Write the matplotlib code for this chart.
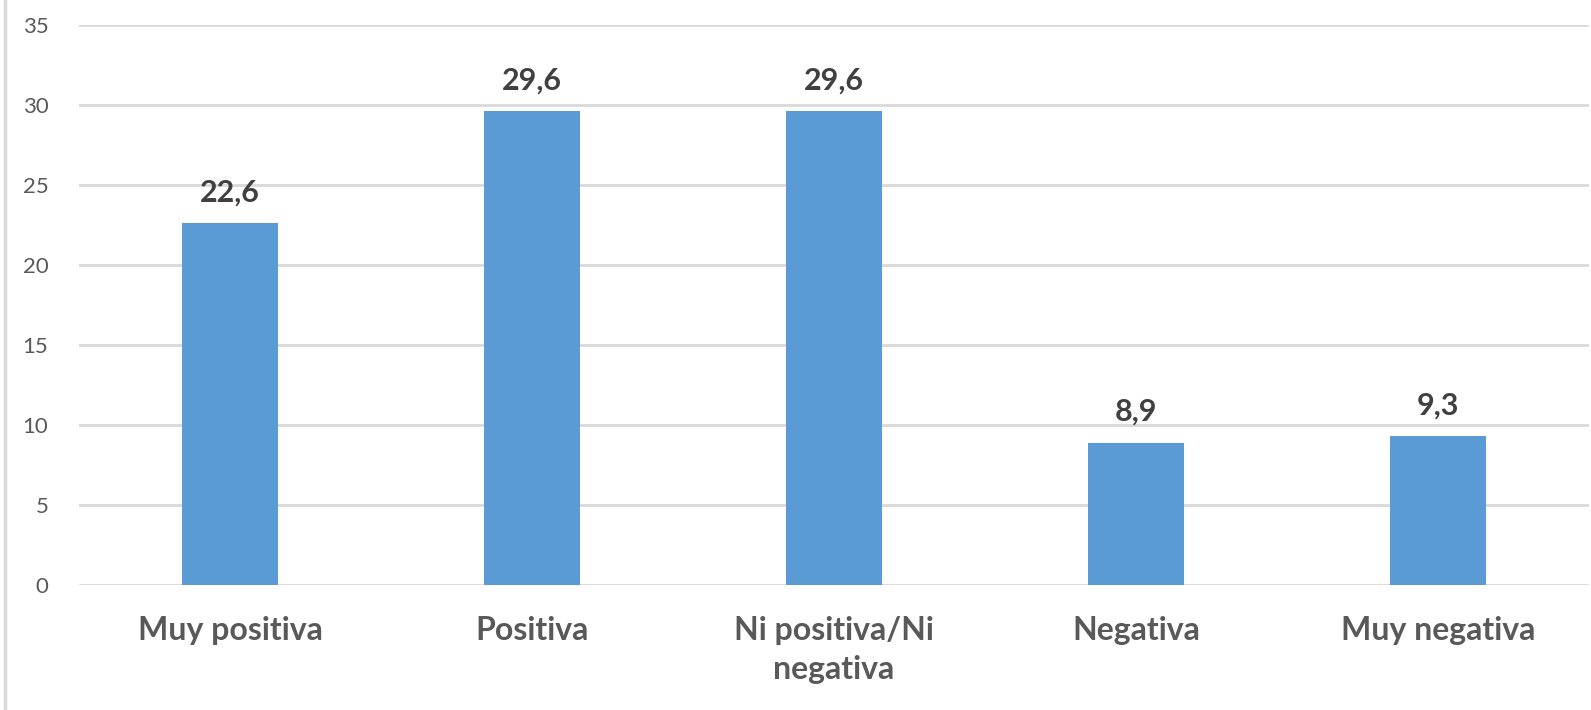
import matplotlib.pyplot as plt
from matplotlib.lines import Line2D

categories = ['Muy positiva', 'Positiva', 'Ni positiva/Ni\nnegativa', 'Negativa', 'Muy negativa']
values = [22.6, 29.6, 29.6, 8.9, 9.3]
value_labels = ['22,6', '29,6', '29,6', '8,9', '9,3']
yticks = [0, 5, 10, 15, 20, 25, 30, 35]

plt.rcParams['font.family'] = ['Lato', 'DejaVu Sans']

fig = plt.figure(figsize=(15.91, 7.10), dpi=100)
ax = fig.add_axes([79 / 1591, 1 - 585 / 710, 1510 / 1591, 560 / 710])

x = list(range(len(categories)))
ax.bar(x, values, width=0.315, color='#5B9BD5', zorder=3)

for xi, v, lab in zip(x, values, value_labels):
    ax.annotate(lab, (xi, v), xytext=(0, 12), textcoords='offset points',
                ha='center', va='bottom', fontsize=22, fontweight='bold', color='#404040')

ax.set_xlim(-0.5, len(categories) - 0.5)
ax.set_ylim(0, 35)
ax.set_yticks(yticks)
ax.set_yticklabels([str(t) for t in yticks], fontsize=16, color='#595959')
ax.set_xticks(x)
ax.set_xticklabels(categories, fontsize=23, fontweight='bold', color='#595959', linespacing=1.45)
ax.tick_params(axis='both', length=0)
ax.tick_params(axis='y', pad=22)
ax.tick_params(axis='x', pad=22)

ax.grid(axis='y', color='#D9D9D9', linewidth=2, zorder=0)
for s in ax.spines.values():
    s.set_visible(False)

fig.add_artist(Line2D([5 / 1591, 5 / 1591], [0, 1], color='#D9D9D9', linewidth=2.5))

fig.savefig('out.png', dpi=100)
